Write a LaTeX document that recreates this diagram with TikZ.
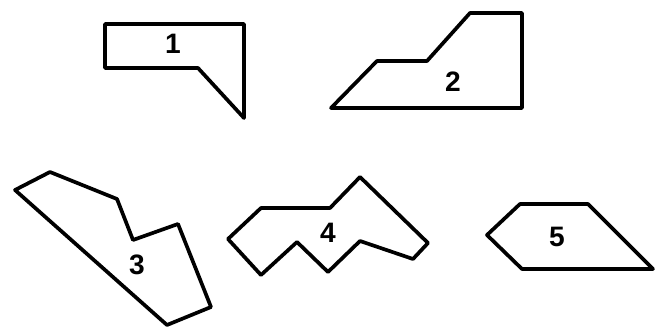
\documentclass[tikz,border=0pt]{standalone}
\usepackage{fontspec}
\setsansfont{Liberation Sans}
\usepackage{tikz}

\begin{document}
\begin{tikzpicture}[
  x=0.02cm, y=-0.02cm,
  piece/.style={draw=black, line width=2.1pt, line join=round},
  plabel/.style={font=\sffamily\bfseries\fontsize{16}{16}\selectfont, inner sep=0pt}
]
  \useasboundingbox (0,0) rectangle (656,331);
  % shapes
  \draw[piece] (105,24) -- (244,24) -- (244,118) -- (198,68) -- (105,68) -- cycle;
  \draw[piece] (331,108) -- (377,61) -- (427,61) -- (470,13) -- (522,13) -- (522,108) -- cycle;
  \draw[piece] (15,190) -- (50,172) -- (117,199) -- (133,240) -- (178,224) -- (211,307) -- (167,325) -- cycle;
  \draw[piece] (228,239) -- (261,208) -- (330,208) -- (360,177) -- (428,243) -- (413,259)
    -- (360,241) -- (328,272) -- (297,242) -- (261,275) -- cycle;
  \draw[piece] (487,235) -- (520,204) -- (588,204) -- (653,269) -- (522,269) -- cycle;
  % labels
  \node[plabel] (p1) at (173,44) {1};
  \node[plabel] (p2) at (453,82) {2};
  \node[plabel] (p3) at (137,265) {3};
  \node[plabel] (p4) at (328,233) {4};
  \node[plabel] (p5) at (557,237) {5};
\end{tikzpicture}
\end{document}
